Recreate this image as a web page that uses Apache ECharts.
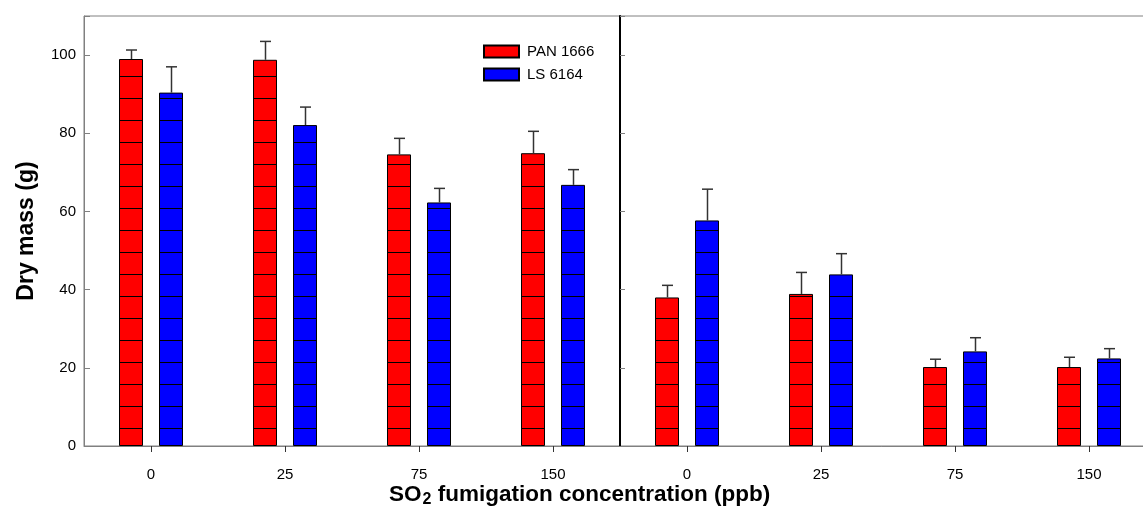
<!DOCTYPE html>
<html>
<head>
<meta charset="utf-8">
<script src="https://cdn.jsdelivr.net/npm/echarts@6/dist/echarts.min.js"></script>
<style>
  html, body { margin: 0; padding: 0; background: #fff; }
  #chart { width: 1143px; height: 514px; }
</style>
</head>
<body>
<div id="chart"></div>
<script>
// SO2 fumigation levels (ppb), shared by both panels
const categories = ['0', '25', '75', '150'];
const seriesNames = ['PAN 1666', 'LS 6164'];
const yTicks = [0, 20, 40, 60, 80, 100];

// Left panel: dry mass (g) and its standard error
const leftPan = [99.0, 98.8, 74.6, 74.9];
const leftPanErr = [2.3, 4.7, 4.1, 5.6];
const leftLs = [90.4, 82.1, 62.3, 66.8];
const leftLsErr = [6.6, 4.6, 3.6, 3.9];

// Right panel: dry mass (g) and its standard error
const rightPan = [38.0, 38.9, 20.2, 20.2];
const rightPanErr = [3.1, 5.5, 2.0, 2.5];
const rightLs = [57.7, 43.9, 24.2, 22.4];
const rightLsErr = [8.0, 5.3, 3.5, 2.5];

const RED = '#ff0000';
const BLUE = '#0000ff';
const AXIS_GRAY = '#808080';
const FONT = 'Liberation Sans, Arial, sans-serif';

const BAR_W = 24;          // bar width in px
const BAR_OFFSET = 20;     // half the distance between paired bar centres
const HATCH_STEP = 22;     // spacing of the horizontal fill lines
const HATCH_FIRST = 18;    // first fill line above the baseline
const CAP_HALF = 5;        // half width of an error cap

const Y_MIN = 0, Y_MAX = 110, Y_STEP = 20;

function barSeries(name, values, color, gridIdx) {
  return {
    name: name,
    type: 'bar',
    xAxisIndex: gridIdx,
    yAxisIndex: gridIdx,
    data: values,
    barWidth: BAR_W,
    barGap: (2 * BAR_OFFSET - BAR_W) / BAR_W * 100 + '%',
    itemStyle: { color: color, borderColor: '#000', borderWidth: 1 },
    emphasis: { disabled: true },
    silent: true,
    z: 2
  };
}

// Horizontal fill lines inside each bar plus its upper error bar
function overlaySeries(values, errs, side, gridIdx) {
  return {
    type: 'custom',
    xAxisIndex: gridIdx,
    yAxisIndex: gridIdx,
    silent: true,
    z: 5,
    data: values.map((v, i) => [i, v, errs[i]]),
    renderItem: function (params, api) {
      const i = api.value(0), v = api.value(1), e = api.value(2);
      const base = api.coord([i, 0]);
      const top = api.coord([i, v]);
      const cap = api.coord([i, v + e]);
      const cx = Math.round(base[0] + side * BAR_OFFSET);
      const x0 = cx - BAR_W / 2, x1 = cx + BAR_W / 2;
      const children = [];
      for (let y = Math.round(base[1]) - HATCH_FIRST; y > top[1] + 1.5; y -= HATCH_STEP) {
        children.push({
          type: 'line',
          shape: { x1: x0, y1: y + 0.5, x2: x1, y2: y + 0.5 },
          style: { stroke: '#000', lineWidth: 1 }
        });
      }
      children.push({
        type: 'line',
        shape: { x1: cx + 0.5, y1: top[1], x2: cx + 0.5, y2: cap[1] },
        style: { stroke: '#333', lineWidth: 1.5 }
      });
      children.push({
        type: 'line',
        shape: { x1: cx - CAP_HALF, y1: cap[1], x2: cx + CAP_HALF + 1, y2: cap[1] },
        style: { stroke: '#333', lineWidth: 1.5 }
      });
      return { type: 'group', children: children };
    }
  };
}

function xAxis(gridIdx) {
  return {
    type: 'category',
    gridIndex: gridIdx,
    data: categories,
    boundaryGap: true,
    axisLine: { show: true, lineStyle: { color: AXIS_GRAY, width: 1 } },
    axisTick: { show: true, alignWithLabel: true, length: 6, lineStyle: { color: '#333' } },
    axisLabel: { color: '#000', fontSize: 15, fontFamily: FONT, margin: 21 },
    splitLine: { show: false }
  };
}

const chart = echarts.init(document.getElementById('chart'), null, { renderer: 'canvas' });

chart.setOption({
  backgroundColor: '#ffffff',
  animation: false,
  grid: [
    { left: 84, top: 16, width: 536, bottom: 68, outerBoundsMode: 'none', show: true, borderColor: AXIS_GRAY, borderWidth: 1, backgroundColor: 'transparent' },
    { left: 620, top: 16, width: 536, bottom: 68, outerBoundsMode: 'none', show: true, borderColor: AXIS_GRAY, borderWidth: 1, backgroundColor: 'transparent' }
  ],
  legend: {
    data: seriesNames,
    orient: 'vertical',
    left: 483,
    top: 44,
    padding: 0,
    itemWidth: 35,
    itemHeight: 12,
    itemGap: 8,
    icon: 'rect',
    selectedMode: false,
    textStyle: { color: '#000', fontSize: 15, fontFamily: FONT, padding: [0, 0, 0, 3] }
  },
  xAxis: [xAxis(0), xAxis(1)],
  yAxis: [
    {
      type: 'value',
      gridIndex: 0,
      min: Y_MIN, max: Y_MAX, interval: Y_STEP,
      name: 'Dry mass (g)',
      nameLocation: 'middle',
      nameGap: 46,
      nameTextStyle: { color: '#000', fontSize: 23, fontWeight: 'bold', fontFamily: FONT },
      axisLine: { show: true, lineStyle: { color: AXIS_GRAY, width: 1 } },
      axisTick: { show: true, inside: true, length: 6, lineStyle: { color: AXIS_GRAY } },
      axisLabel: {
        color: '#000', fontSize: 15, fontFamily: FONT, margin: 8,
        formatter: v => (yTicks.indexOf(v) >= 0 ? String(v) : '')
      },
      splitLine: { show: false }
    },
    {
      type: 'value',
      gridIndex: 1,
      min: Y_MIN, max: Y_MAX, interval: Y_STEP,
      axisLine: { show: true, lineStyle: { color: '#000', width: 2 } },
      axisTick: { show: true, inside: true, length: 5, lineStyle: { color: AXIS_GRAY } },
      axisLabel: { show: false },
      splitLine: { show: false }
    }
  ],
  graphic: [
    {
      type: 'text',
      left: 389,
      top: 483,
      style: {
        text: '{a|SO}{s|2}{a| fumigation concentration (ppb)}',
        rich: {
          a: { fontSize: 22.5, fontWeight: 'bold', fontFamily: FONT, fill: '#000' },
          s: { fontSize: 16, fontWeight: 'bold', fontFamily: FONT, fill: '#000', padding: [11, 0, 0, 1] }
        }
      }
    }
  ],
  series: [
    barSeries(seriesNames[0], leftPan, RED, 0),
    barSeries(seriesNames[1], leftLs, BLUE, 0),
    barSeries(seriesNames[0], rightPan, RED, 1),
    barSeries(seriesNames[1], rightLs, BLUE, 1),
    overlaySeries(leftPan, leftPanErr, -1, 0),
    overlaySeries(leftLs, leftLsErr, 1, 0),
    overlaySeries(rightPan, rightPanErr, -1, 1),
    overlaySeries(rightLs, rightLsErr, 1, 1)
  ]
});
</script>
</body>
</html>
